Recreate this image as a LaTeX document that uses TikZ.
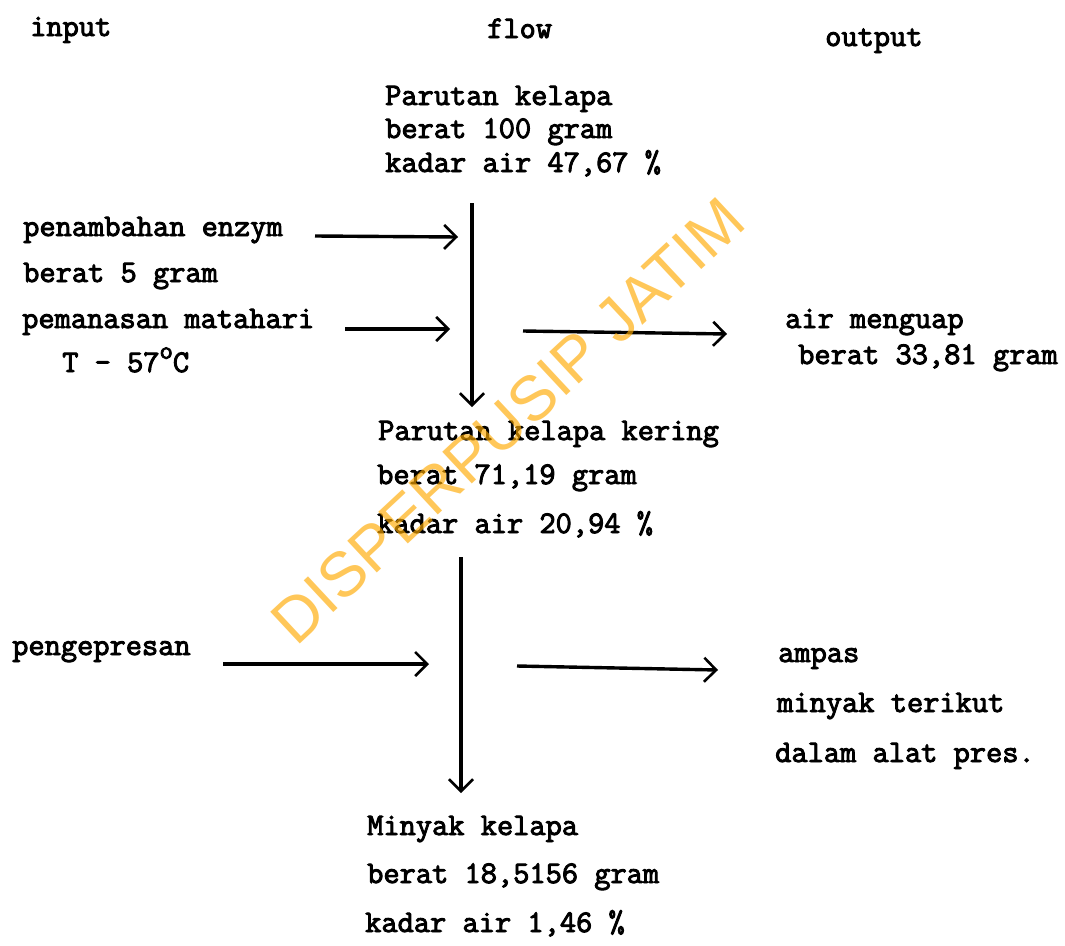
\documentclass[tikz,border=0pt]{standalone}
\usepackage{fontspec}
\newfontfamily\tw{Latin Modern Mono}[FakeBold=3]
\newfontfamily\wm{Liberation Sans}
\usetikzlibrary{arrows.meta}
\definecolor{wmorange}{RGB}{255,170,0}
\tikzset{
  lbl/.style={anchor=base west, inner sep=0pt, font=\tw\fontsize{31.5}{31.5}\selectfont},
  flowline/.style={line width=3.4pt, -{Straight Barb[length=12pt,width=24pt,line width=2.6pt]}},
}
\begin{document}
\begin{tikzpicture}[x=1pt,y=-1pt]
\useasboundingbox (0,0) rectangle (1065,945);
\fill[white] (0,0) rectangle (1065,945);
% headers
\node[lbl] (hin) at (30,36) {input};
\node[lbl] (hflow) at (487,38) {flow};
\node[lbl] (hout) at (825,46) {output};
% top block
\node[lbl] (t1) at (385,105) {Parutan kelapa};
\node[lbl] (t2) at (385,138) {berat 100 gram};
\node[lbl] (t3) at (385,172) {kadar air 47,67 \%};
% inputs 1
\node[lbl] (i1) at (23,236) {penambahan enzym};
\node[lbl] (i2) at (23,282) {berat 5 gram};
\node[lbl] (i3) at (22,328) {pemanasan matahari};
\node[lbl] (i4) at (62,372) {T - 57\raisebox{0.42em}{\fontsize{26}{26}\selectfont o}C};
% output 1
\node[lbl] (o1) at (785,328) {air menguap};
\node[lbl] (o2) at (798,364) {berat 33,81 gram};
% middle block
\node[lbl] (m1) at (378,440) {Parutan kelapa kering};
\node[lbl] (m2) at (377,484) {berat 71,19 gram};
\node[lbl] (m3) at (377,533) {kadar air 20,94 \%};
% input 2
\node[lbl] (p1) at (12,655) {pengepresan};
% output 2
\node[lbl] (a1) at (778,662) {ampas};
\node[lbl] (a2) at (777,712) {minyak terikut};
\node[lbl] (a3) at (775,762) {dalam alat pres.};
% bottom block
\node[lbl] (b1) at (367,835) {Minyak kelapa};
\node[lbl] (b2) at (367,883) {berat 18,5156 gram};
\node[lbl] (b3) at (365,932) {kadar air 1,46 \%};
% connector end points
\coordinate (v1s) at (472,203);
\coordinate (v1e) at (472,407);
\coordinate (ens) at (315,236);
\coordinate (ene) at (458,237);
\coordinate (pms) at (345,329);
\coordinate (pme) at (450,329);
\coordinate (ams) at (523,331);
\coordinate (ame) at (727,334);
\coordinate (v2s) at (461,557);
\coordinate (v2e) at (461,793);
\coordinate (prs) at (223,664);
\coordinate (pre) at (429,664);
\coordinate (aps) at (517,666);
\coordinate (ape) at (718,670);
\draw[flowline] (v1s) -- (v1e);
\draw[flowline] (ens) -- (ene);
\draw[flowline] (pms) -- (pme);
\draw[flowline] (ams) -- (ame);
\draw[flowline] (v2s) -- (v2e);
\draw[flowline] (prs) -- (pre);
\draw[flowline] (aps) -- (ape);
% watermark
\node[rotate=43, inner sep=0pt, font=\wm\fontsize{63}{63}\selectfont, text=wmorange, text opacity=0.65] (wmk) at (508,421) {DISPERPUSIP JATIM};
\end{tikzpicture}
\end{document}
